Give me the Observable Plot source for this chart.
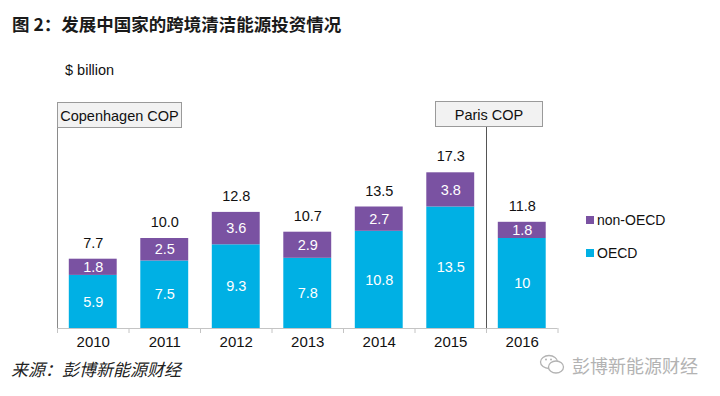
<!DOCTYPE html>
<html>
<head>
<meta charset="utf-8">
<script src="https://cdn.jsdelivr.net/npm/d3@7"></script>
<script src="https://cdn.jsdelivr.net/npm/@observablehq/plot@0.6"></script>
<style>
  html, body { margin: 0; padding: 0; background: #fff; }
  #wrap { position: relative; width: 720px; height: 396px; overflow: hidden; font-family: "Liberation Sans", Arial, sans-serif; background: #fff; }
  #title { position: absolute; left: 12px; top: 11px; font-family: "Noto Sans CJK SC", sans-serif; font-weight: bold; font-size: 17.5px; color: #1a1a1a; line-height: 26px; white-space: nowrap; z-index: 2; }
  #unit { position: absolute; left: 65px; top: 62px; font-size: 14.5px; color: #111; z-index: 2; }
  #chart { position: absolute; left: 0; top: 50px; z-index: 1; }
  .cop { position: absolute; height: 26px; line-height: 26px; background: #f2f2f2; border: 1px solid #9a9a9a; font-size: 14.5px; color: #111; text-align: center; box-sizing: border-box; white-space: nowrap; z-index: 2; }
  #legend { position: absolute; left: 586px; top: 208px; font-size: 14px; color: #111; z-index: 2; }
  .li { display: flex; align-items: center; height: 24px; margin-bottom: 9px; }
  .sw { width: 8px; height: 8px; margin-right: 3px; }
  #source { position: absolute; left: 11px; top: 356px; font-family: "Noto Sans CJK SC", sans-serif; font-style: italic; font-size: 17px; color: #222; line-height: 26px; white-space: nowrap; z-index: 2; }
  #wm { position: absolute; left: 539px; top: 352px; display: flex; align-items: center; font-family: "Noto Sans CJK SC", sans-serif; font-size: 18px; color: #b3b3b3; white-space: nowrap; z-index: 2; }
</style>
</head>
<body>
<div id="wrap">
  <div id="title">图 2：发展中国家的跨境清洁能源投资情况</div>
  <div id="unit">$ billion</div>
  <div id="chart"></div>
  <div id="legend"></div>
  <div id="source">来源：彭博新能源财经</div>
  <div id="wm"><svg width="28" height="24" viewBox="0 0 28 24"><ellipse cx="10" cy="9" rx="8.5" ry="6.5" fill="none" stroke="#b3b3b3" stroke-width="1.3"/><ellipse cx="17" cy="14" rx="7.5" ry="6" fill="#fff" stroke="#b3b3b3" stroke-width="1.3"/><circle cx="7" cy="6.5" r="1" fill="#b3b3b3"/><circle cx="12" cy="6.5" r="1" fill="#b3b3b3"/></svg><span style="margin-left:5px">彭博新能源财经</span></div>
</div>
<script>
const years = [2010, 2011, 2012, 2013, 2014, 2015, 2016];
const oecd = [5.9, 7.5, 9.3, 7.8, 10.8, 13.5, 10];
const nonOecd = [1.8, 2.5, 3.6, 2.9, 2.7, 3.8, 1.8];
const totals = [7.7, 10.0, 12.8, 10.7, 13.5, 17.3, 11.8];
const seriesNames = ["OECD", "non-OECD"];
const seriesColors = ["#00b0e4", "#7a52a2"];
const eventLabels = ["Copenhagen COP", "Paris COP"];
const eventAt = [2009.5, 2015.5];

const rows = [];
years.forEach((yr, i) => {
  rows.push({year: yr, series: "OECD", value: oecd[i], y1: 0, y2: oecd[i]});
  rows.push({year: yr, series: "non-OECD", value: nonOecd[i], y1: oecd[i], y2: oecd[i] + nonOecd[i]});
});
const tops = years.map((yr, i) => ({year: yr, top: oecd[i] + nonOecd[i], total: totals[i]}));
const boundaries = [years[0] - 0.5, ...years.map(y => y + 0.5)];
const half = 0.335;

const chart = Plot.plot({
  width: 720,
  height: 306,
  marginTop: 53,
  marginBottom: 28,
  marginLeft: 57,
  marginRight: 162.5,
  style: {fontFamily: "'Liberation Sans', Arial, sans-serif", background: "transparent"},
  x: {type: "linear", domain: [years[0] - 0.5, years[years.length - 1] + 0.5]},
  y: {domain: [0, 25], axis: null},
  color: {domain: seriesNames, range: seriesColors},
  marks: [
    Plot.rect(rows, {x1: d => d.year - half, x2: d => d.year + half, y1: "y1", y2: "y2", fill: "series"}),
    Plot.ruleY([0], {stroke: "#c4c4c4"}),
    Plot.ruleX([eventAt[0]], {stroke: "#8a8a8a"}),
    Plot.ruleX([eventAt[1]], {stroke: "#555"}),
    Plot.axisX({ticks: boundaries, tickFormat: () => "", tickSize: 5, stroke: "#c4c4c4", label: null}),
    Plot.axisX({ticks: years, tickFormat: d => String(d), tickSize: 0, tickPadding: 8, fontSize: 15, fill: "#111", label: null}),
    Plot.text(rows, {x: "year", y: d => (d.y1 + d.y2) / 2, text: d => String(d.value), fill: "white", fontSize: 14.5}),
    Plot.text(tops, {x: "year", y: "top", text: d => d.total.toFixed(1), fill: "#111", fontSize: 14.5, dy: -16})
  ]
});
document.getElementById("chart").appendChild(chart);

const xs = chart.scale("x");
const wrap = document.getElementById("wrap");
const c1 = document.createElement("div");
c1.className = "cop";
c1.textContent = eventLabels[0];
c1.style.left = xs.apply(eventAt[0]) + "px";
c1.style.top = "102px";
c1.style.width = "125px";
wrap.appendChild(c1);
const c2 = document.createElement("div");
c2.className = "cop";
c2.textContent = eventLabels[1];
c2.style.left = (xs.apply(eventAt[1]) - 51) + "px";
c2.style.top = "101px";
c2.style.width = "108px";
wrap.appendChild(c2);

const legend = document.getElementById("legend");
[1, 0].forEach(i => {
  const item = document.createElement("div");
  item.className = "li";
  item.innerHTML = `<span class="sw" style="background:${seriesColors[i]}"></span><span>${seriesNames[i]}</span>`;
  legend.appendChild(item);
});
</script>
</body>
</html>
